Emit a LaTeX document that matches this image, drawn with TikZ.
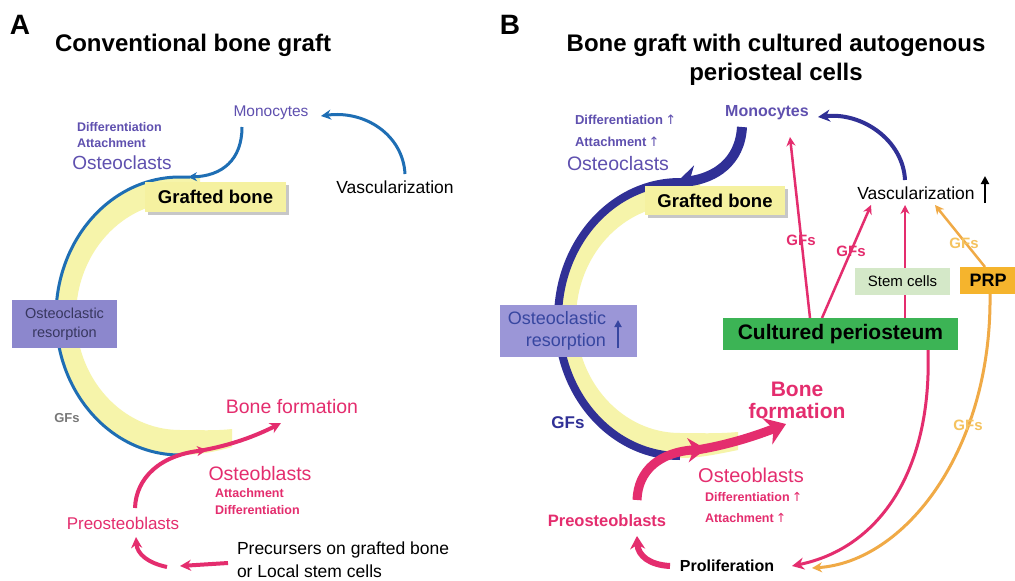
\documentclass[tikz,border=0pt]{standalone}
\usepackage{fontspec}
\setmainfont{Liberation Sans}
\newfontfamily\arrfont{DejaVu Sans}
\usetikzlibrary{arrows.meta}
\definecolor{purp}{RGB}{95,80,175}
\definecolor{pinkc}{RGB}{228,45,110}
\definecolor{blueA}{RGB}{30,110,180}
\definecolor{navy}{RGB}{48,48,150}
\definecolor{bandyel}{RGB}{246,244,170}
\definecolor{boxyel}{RGB}{245,241,160}
\definecolor{ocrAc}{RGB}{140,135,205}
\definecolor{ocrBc}{RGB}{155,150,215}
\definecolor{ocrtxtA}{RGB}{55,55,95}
\definecolor{ocrtxtB}{RGB}{55,70,160}
\definecolor{cpgreen}{RGB}{60,180,85}
\definecolor{stemg}{RGB}{212,232,200}
\definecolor{prpor}{RGB}{245,180,45}
\definecolor{orarr}{RGB}{240,170,70}
\definecolor{orlbl}{RGB}{245,195,95}
\definecolor{gfgray}{RGB}{120,120,120}
\newcommand\fsz[2]{\fontsize{#1}{#2}\selectfont}
\newcommand\bandfill[1]{%
  \fill[bandyel] (200,177) -- (180,177) .. controls (111.5,177) and (56,239.2) .. (56,316)
    .. controls (56,392.8) and (111.5,455) .. (180,455)
    .. controls (200,455) and (218,451) .. (#1,447) -- (#1,429)
    .. controls (215,431) and (198,430) .. (180,430)
    .. controls (122.6,430) and (76,379) .. (76,316)
    .. controls (76,253) and (122.6,202) .. (180,202) -- (200,202) -- cycle;}
\begin{document}
\begin{tikzpicture}[x=1pt,y=-1pt,
  txt/.style={inner sep=0pt, outer sep=0pt},
  boxn/.style={inner sep=0pt, outer sep=0pt},
  pinkln/.style={pinkc, line width=#1},
  tipS/.style={-{Stealth[length=#1,width=#1]}},
]
\useasboundingbox (0,0) rectangle (1015,581);
\fill[white] (0,0) rectangle (1015,581);

% ================= Panel A =================
\bandfill{232}
\draw[blueA, line width=3] (190,177) -- (180,177) .. controls (111.5,177) and (56,239.2) .. (56,316)
   .. controls (56,392.8) and (111.5,455) .. (180,455);

\coordinate (mA1) at (242,127); \coordinate (mA2) at (188,177);
\draw[blueA, line width=3, tipS=9pt] (mA1) .. controls (242,160) and (222,176) .. (mA2);
\coordinate (vA1) at (405,174); \coordinate (vA2) at (321,116);
\draw[blueA, line width=3, tipS=10pt] (vA1) .. controls (403,135) and (365,110) .. (vA2);

\coordinate (pA1) at (135,508); \coordinate (pA2) at (207,450);
\coordinate (pA3) at (198,451); \coordinate (pA4) at (281,423);
\draw[pinkln=4, tipS=10pt] (pA1) .. controls (136,478) and (160,455) .. (pA2);
\draw[pinkln=4, tipS=11pt] (pA3) .. controls (230,446) and (258,435) .. (pA4);
\coordinate (bA1) at (228,563); \coordinate (bA2) at (180,566);
\draw[pinkln=4, tipS=11pt] (bA1) -- (bA2);
\coordinate (bA3) at (167,567); \coordinate (bA4) at (136,537);
\draw[pinkln=4, tipS=11pt] (bA3) .. controls (148,563) and (137,554) .. (bA4);

\fill[black!22] (148,185) rectangle (289,215);
\node[boxn, fill=boxyel, minimum width=141pt, minimum height=30pt, font=\fsz{18.5}{20}\bfseries] (grA) at (215.5,197) {Grafted bone};
\node[boxn, fill=ocrAc, minimum width=105pt, minimum height=48pt, align=center, text=ocrtxtA, font=\fsz{14.5}{19}] (ocrA) at (64.5,324) {Osteoclastic\\resorption};

\node[txt, font=\fsz{28}{30}\bfseries] (labA) at (20,25) {A};
\node[txt, font=\fsz{24}{28}\bfseries] (titA) at (193,45) {Conventional bone graft};
\node[txt, text=purp, font=\fsz{15.5}{18}] (monoA) at (271,113) {Monocytes};
\node[txt, text=purp, font=\fsz{12.5}{15}\bfseries, anchor=west] (difA) at (77,127) {Differentiation};
\node[txt, text=purp, font=\fsz{12.5}{15}\bfseries, anchor=west] (attA) at (77,143) {Attachment};
\node[txt, text=purp, font=\fsz{19}{22}] (oclA) at (122,163) {Osteoclasts};
\node[txt, font=\fsz{17.5}{20}] (vasA) at (395,187) {Vascularization};
\node[txt, text=gfgray, font=\fsz{13}{15}\bfseries] (gfA) at (67,418) {GFs};
\node[txt, text=pinkc, font=\fsz{19.5}{22}] (bfA) at (292,407) {Bone formation};
\node[txt, text=pinkc, font=\fsz{19.5}{22}] (obA) at (260,474) {Osteoblasts};
\node[txt, text=pinkc, font=\fsz{12.5}{15}\bfseries, anchor=west] (at2A) at (215,493) {Attachment};
\node[txt, text=pinkc, font=\fsz{12.5}{15}\bfseries, anchor=west] (di2A) at (215,510) {Differentiation};
\node[txt, text=pinkc, font=\fsz{17}{20}] (preA) at (123,523) {Preosteoblasts};
\node[txt, font=\fsz{17.5}{23}, align=left, anchor=west] (prcA) at (237,560) {Precursers on grafted bone\\or Local stem cells};

% ================= Panel B =================
\begin{scope}[shift={(500,3)}]
  \bandfill{238}
  \draw[navy, line width=8] (182,179) -- (180,179) .. controls (112.6,179) and (58,240) .. (58,316)
     .. controls (58,392) and (112.6,453) .. (180,453);
\end{scope}

\coordinate (mB1) at (742,127); \coordinate (mB2) at (676,183);
\draw[navy, line width=10, -{Stealth[length=20pt,width=30pt]}] (mB1) .. controls (740,162) and (715,178) .. (mB2);
\coordinate (vB1) at (905,180); \coordinate (vB2) at (818,117);
\draw[navy, line width=4, tipS=12pt] (vB1) .. controls (903,140) and (862,112) .. (vB2);

\coordinate (pB1) at (637,500); \coordinate (pB2) at (706,449);
\coordinate (pB3) at (690,451); \coordinate (pB4) at (786,424);
\draw[pinkln=9, -{Stealth[length=18pt,width=24pt]}] (pB1) .. controls (638,470) and (660,452) .. (pB2);
\draw[pinkln=9, -{Stealth[length=20pt,width=28pt]}] (pB3) .. controls (725,446) and (755,436) .. (pB4);
\coordinate (bB1) at (670,566); \coordinate (bB2) at (637,536);
\draw[pinkln=6, -{Stealth[length=13pt,width=15pt]}] (bB1) .. controls (650,565) and (638,556) .. (bB2);

\coordinate (c1) at (810,318); \coordinate (t1) at (790,137);
\coordinate (c2) at (822,318); \coordinate (t2) at (871,205);
\coordinate (c3) at (905,318); \coordinate (t3) at (905,205);
\coordinate (c4) at (928,350); \coordinate (t4) at (792,566);
\draw[pinkln=2.5, tipS=9pt] (c1) -- (t1);
\draw[pinkln=2.5, tipS=9pt] (c2) -- (t2);
\draw[pinkln=2.5, tipS=9pt] (c3) -- (t3);
\draw[pinkln=3, tipS=12pt] (c4) .. controls (932,470) and (880,548) .. (t4);
\coordinate (o1) at (985,267); \coordinate (u1) at (935,205);
\coordinate (o2) at (990,294); \coordinate (u2) at (812,568);
\draw[orarr, line width=2.5, tipS=9pt] (o1) -- (u1);
\draw[orarr, line width=3, tipS=10pt] (o2) .. controls (992,450) and (905,562) .. (u2);
\coordinate (va1) at (985,203); \coordinate (va2) at (985,176);
\draw[black, line width=2.5, -{Triangle[length=8pt,width=8pt]}] (va1) -- (va2);

\fill[black!22] (648,189) rectangle (788,218);
\node[boxn, fill=boxyel, minimum width=140pt, minimum height=29pt, font=\fsz{18.5}{20}\bfseries] (grB) at (715,200.5) {Grafted bone};
\node[boxn, fill=ocrBc, minimum width=137pt, minimum height=52pt] (ocrB) at (568.5,331) {};
\node[txt, text=ocrtxtB, font=\fsz{18}{22}, align=right, anchor=east] (ocrBt) at (606,331) {Osteoclastic\\resorption};
\coordinate (ra1) at (618,348); \coordinate (ra2) at (618,320);
\draw[ocrtxtB, line width=2.5, -{Triangle[length=7pt,width=7pt]}] (ra1) -- (ra2);
\node[boxn, fill=cpgreen, minimum width=235pt, minimum height=32pt, font=\fsz{21}{24}\bfseries] (cpB) at (840.5,334) {Cultured periosteum};
\node[boxn, fill=stemg, minimum width=95pt, minimum height=27pt, font=\fsz{15}{18}] (stemB) at (902.5,281.5) {Stem cells};
\node[boxn, fill=prpor, minimum width=56pt, minimum height=27pt, font=\fsz{18}{20}\bfseries] (prpB) at (988,280.5) {PRP};

\node[txt, font=\fsz{28}{30}\bfseries] (labB) at (510,25) {B};
\node[txt, font=\fsz{24}{29}\bfseries, align=center] (titB) at (776,60) {Bone graft with cultured autogenous\\periosteal cells};
\node[txt, text=purp, font=\fsz{13}{15}\bfseries, anchor=west] (difB) at (575,120) {Differentiation\,{\arrfont\mdseries ↑}};
\node[txt, text=purp, font=\fsz{13}{15}\bfseries, anchor=west] (attB) at (575,142) {Attachment\,{\arrfont\mdseries ↑}};
\node[txt, text=purp, font=\fsz{19.5}{22}] (oclB) at (618,164) {Osteoclasts};
\node[txt, text=purp, font=\fsz{16}{18}\bfseries] (monoB) at (767,113) {Monocytes};
\node[txt, font=\fsz{17.5}{20}] (vasB) at (916,193) {Vascularization};
\node[txt, text=navy, font=\fsz{17}{20}\bfseries] (gfB) at (568,423) {GFs};
\node[txt, text=pinkc, font=\fsz{21}{22}\bfseries, align=center] (bfB) at (797,400) {Bone\\formation};
\node[txt, text=pinkc, font=\fsz{20}{22}] (obB) at (751,475) {Osteoblasts};
\node[txt, text=pinkc, font=\fsz{12.5}{15}\bfseries, anchor=west] (di2B) at (705,497) {Differentiation\,{\arrfont\mdseries ↑}};
\node[txt, text=pinkc, font=\fsz{12.5}{15}\bfseries, anchor=west] (at2B) at (705,518) {Attachment\,{\arrfont\mdseries ↑}};
\node[txt, text=pinkc, font=\fsz{16.5}{20}\bfseries] (preB) at (607,521) {Preosteoblasts};
\node[txt, font=\fsz{16}{20}\bfseries] (prolB) at (727,566) {Proliferation};
\node[txt, text=pinkc, font=\fsz{15}{18}\bfseries] (g1) at (801,240) {GFs};
\node[txt, text=pinkc, font=\fsz{15}{18}\bfseries] (g2) at (851,251) {GFs};
\node[txt, text=orlbl, font=\fsz{15}{18}\bfseries] (g3) at (964,243) {GFs};
\node[txt, text=orlbl, font=\fsz{15}{18}\bfseries] (g4) at (968,425) {GFs};
\end{tikzpicture}
\end{document}
